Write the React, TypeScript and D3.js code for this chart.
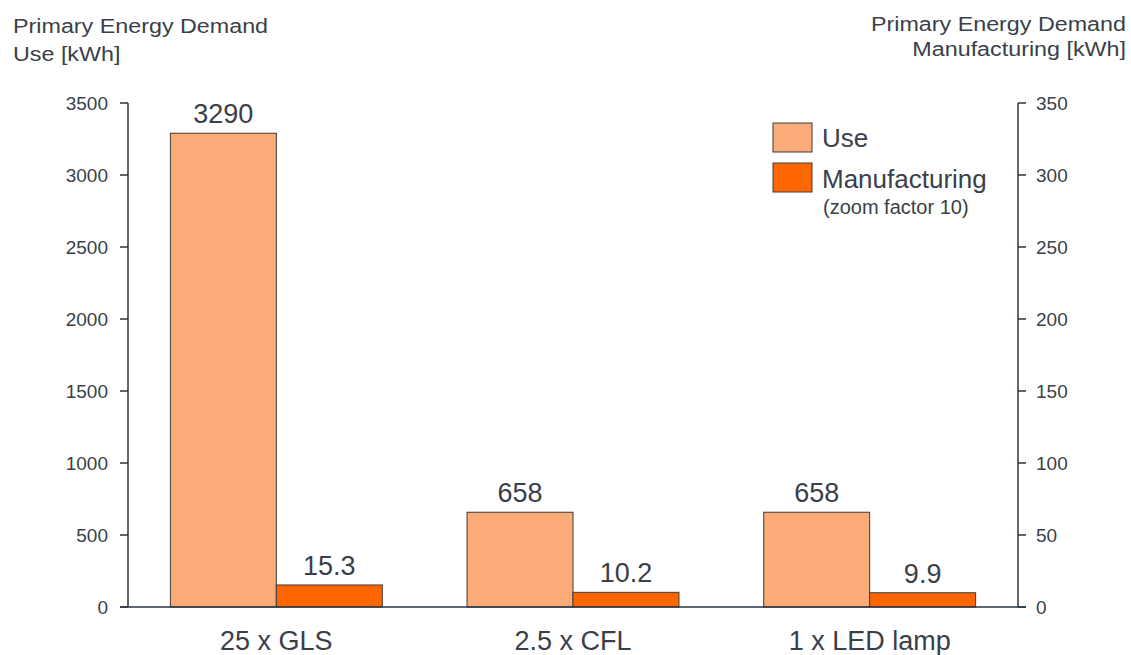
import React from "react";
import * as d3 from "d3";

const categories = ["25 x GLS", "2.5 x CFL", "1 x LED lamp"];
const useValues = [3290, 658, 658];
const manufacturingValues = [15.3, 10.2, 9.9];
const leftTicks = [0, 500, 1000, 1500, 2000, 2500, 3000, 3500];
const rightTicks = [0, 50, 100, 150, 200, 250, 300, 350];
const seriesNames = ["Use", "Manufacturing"];

const W = 1131;
const H = 655;
const left = 128;
const right = 1018;
const top = 103;
const bottom = 607;

const FONT = "'Liberation Sans', Arial, Helvetica, sans-serif";
const TEXT = "#3a3f49";
const AXIS = "#2a3340";
const USE_FILL = "#FAAB78";
const MAN_FILL = "#FF6600";

export default function App() {
  const x = d3.scaleBand<string>().domain(categories).range([left, right]).padding(0);
  const inner = d3
    .scaleBand<string>()
    .domain(seriesNames)
    .range([0, x.bandwidth()])
    .paddingInner(0)
    .paddingOuter(0.4);
  const yL = d3.scaleLinear().domain([0, 3500]).range([bottom, top]);
  const yR = d3.scaleLinear().domain([0, 350]).range([bottom, top]);

  const fmt = (v: number) => (Number.isInteger(v) ? String(v) : v.toFixed(1));

  return (
    <svg
      width={W}
      height={H}
      style={{ position: "absolute", left: 0, top: 0, background: "#fff" }}
      fontFamily={FONT}
    >
      <rect x={0} y={0} width={W} height={H} fill="#fff" />
      {/* titles */}
      <g fill={TEXT} fontSize={21}>
        <text transform="translate(13,33) scale(1.11,1)">Primary Energy Demand</text>
        <text transform="translate(13,61) scale(1.11,1)">Use [kWh]</text>
        <text transform="translate(1126,31) scale(1.11,1)" textAnchor="end">
          Primary Energy Demand
        </text>
        <text transform="translate(1126,56) scale(1.11,1)" textAnchor="end">
          Manufacturing [kWh]
        </text>
      </g>

      {/* bars */}
      {categories.map((c, i) => {
        const x0 = x(c)!;
        const xu = x0 + inner("Use")!;
        const xm = x0 + inner("Manufacturing")!;
        const bw = inner.bandwidth();
        return (
          <g key={c}>
            <rect
              x={xu}
              y={yL(useValues[i])}
              width={bw}
              height={bottom - yL(useValues[i])}
              fill={USE_FILL}
              stroke="#3f3a36"
              strokeWidth={1}
            />
            <rect
              x={xm}
              y={yR(manufacturingValues[i])}
              width={bw}
              height={bottom - yR(manufacturingValues[i])}
              fill={MAN_FILL}
              stroke="#3f3a36"
              strokeWidth={1}
            />
            <text
              x={xu + bw / 2}
              y={yL(useValues[i]) - 10}
              textAnchor="middle"
              fontSize={27}
              fill={TEXT}
            >
              {fmt(useValues[i])}
            </text>
            <text
              x={xm + bw / 2}
              y={yR(manufacturingValues[i]) - 10}
              textAnchor="middle"
              fontSize={27}
              fill={TEXT}
            >
              {fmt(manufacturingValues[i])}
            </text>
            <text
              x={x0 + x.bandwidth() / 2}
              y={650}
              textAnchor="middle"
              fontSize={27}
              fill={TEXT}
            >
              {c}
            </text>
          </g>
        );
      })}

      {/* axes */}
      <g stroke={AXIS} strokeWidth={1.5} fill="none">
        <line x1={left} x2={left} y1={top} y2={bottom} />
        <line x1={right} x2={right} y1={top} y2={bottom} />
        <line x1={left - 8} x2={right + 8} y1={bottom} y2={bottom} />
        {leftTicks.map((t) => (
          <line key={"l" + t} x1={left - 8} x2={left} y1={yL(t)} y2={yL(t)} />
        ))}
        {rightTicks.map((t) => (
          <line key={"r" + t} x1={right} x2={right + 8} y1={yR(t)} y2={yR(t)} />
        ))}
      </g>
      <g fill={TEXT} fontSize={19}>
        {leftTicks.map((t) => (
          <text key={"lt" + t} x={108} y={yL(t)} dy="0.35em" textAnchor="end">
            {t}
          </text>
        ))}
        {rightTicks.map((t) => (
          <text key={"rt" + t} x={1036} y={yR(t)} dy="0.35em" textAnchor="start">
            {t}
          </text>
        ))}
      </g>

      {/* legend */}
      <g>
        <rect x={773} y={123} width={39} height={29} fill={USE_FILL} stroke="#3f3a36" strokeWidth={1} />
        <rect x={773} y={163} width={39} height={29} fill={MAN_FILL} stroke="#3f3a36" strokeWidth={1} />
        <text x={822} y={147} fontSize={26} fill={TEXT}>
          Use
        </text>
        <text x={822} y={188} fontSize={26} fill={TEXT}>
          Manufacturing
        </text>
        <text x={823} y={214} fontSize={20} fill={TEXT}>
          (zoom factor 10)
        </text>
      </g>
    </svg>
  );
}
